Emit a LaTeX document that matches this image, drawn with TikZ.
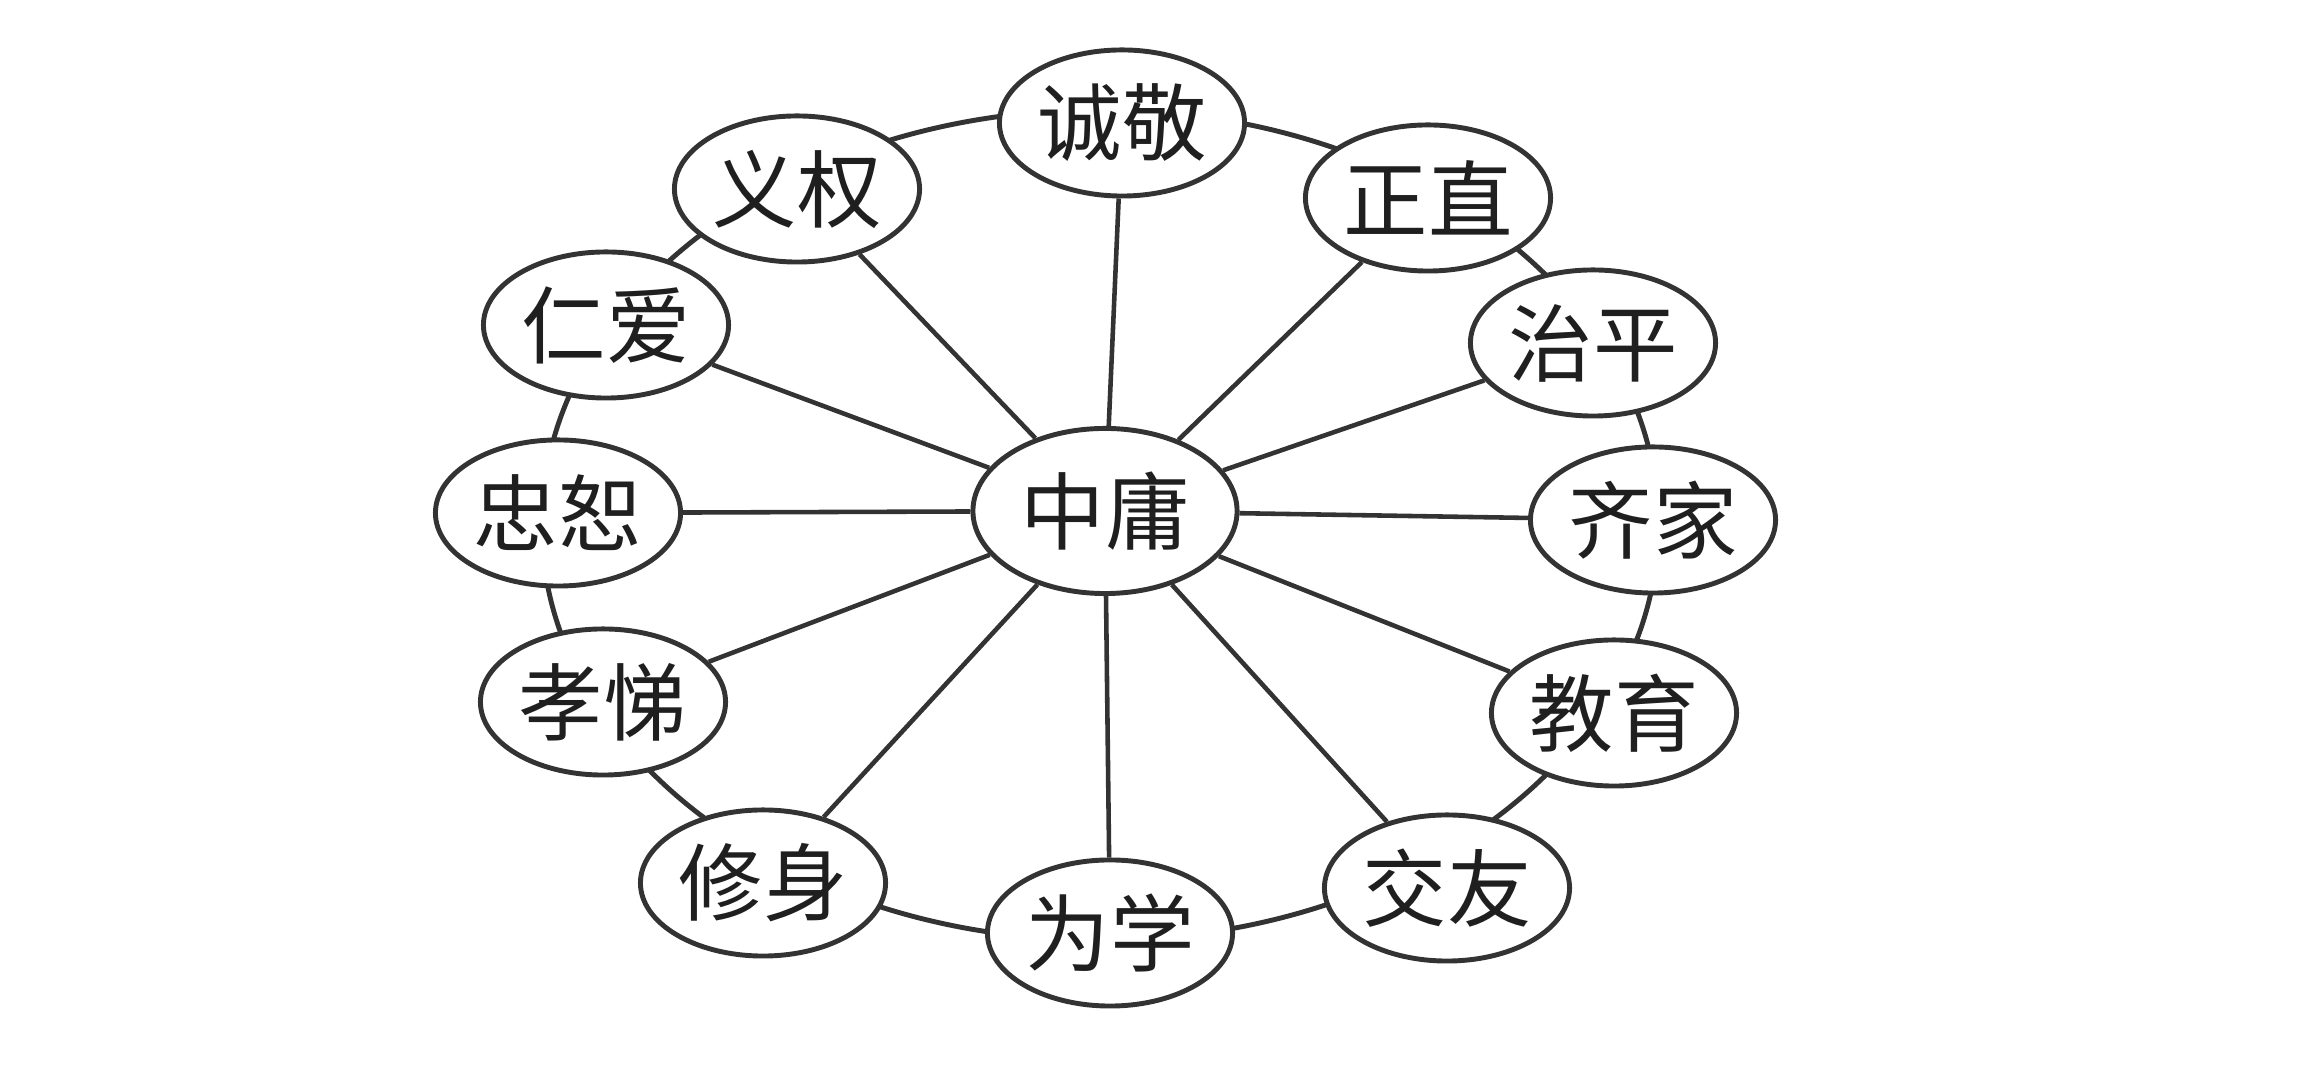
\documentclass[tikz,border=0pt]{standalone}
\usepackage{fontspec}
\newfontfamily\cjk{Noto Sans CJK SC}
\usetikzlibrary{shapes.geometric}
\begin{document}
\begin{tikzpicture}[x=0.01cm,y=-0.01cm,
  outer/.style={ellipse,draw=black!80,line width=1.4pt,fill=white,
    minimum width=2.45cm,minimum height=1.46cm,inner sep=0pt,
    font=\cjk\fontsize{24}{28}\selectfont,text=black!88},
  hub/.style={outer,minimum width=2.64cm,minimum height=1.65cm},
  ringshape/.style={ellipse,draw=black!80,line width=1.4pt,
    minimum width=11.16cm,minimum height=8.3cm,inner sep=0pt},
  spoke/.style={draw=black!80,line width=1.3pt}]
\useasboundingbox (0,0) rectangle (2314,1080);
\node[ringshape] (ring) at (1100,525) {};
\node[hub] (hub) at (1105,511) {中庸};
\node[outer] (cj) at (1122,123) {诚敬};
\node[outer] (zz) at (1428,198) {正直};
\node[outer] (zp) at (1593,343) {治平};
\node[outer] (qj) at (1653,520) {齐家};
\node[outer] (jy) at (1614,713) {教育};
\node[outer] (jiao) at (1447,888) {交友};
\node[outer] (wx) at (1110,933) {为学};
\node[outer] (xs) at (763,883) {修身};
\node[outer] (xt) at (603,702) {孝悌};
\node[outer] (zs) at (558,513) {忠恕};
\node[outer] (ra) at (606,325) {仁爱};
\node[outer] (yq) at (797,189) {义权};
\foreach \n in {cj,zz,zp,qj,jy,jiao,wx,xs,xt,zs,ra,yq}
  \draw[spoke] (hub) -- (\n);
\end{tikzpicture}
\end{document}
